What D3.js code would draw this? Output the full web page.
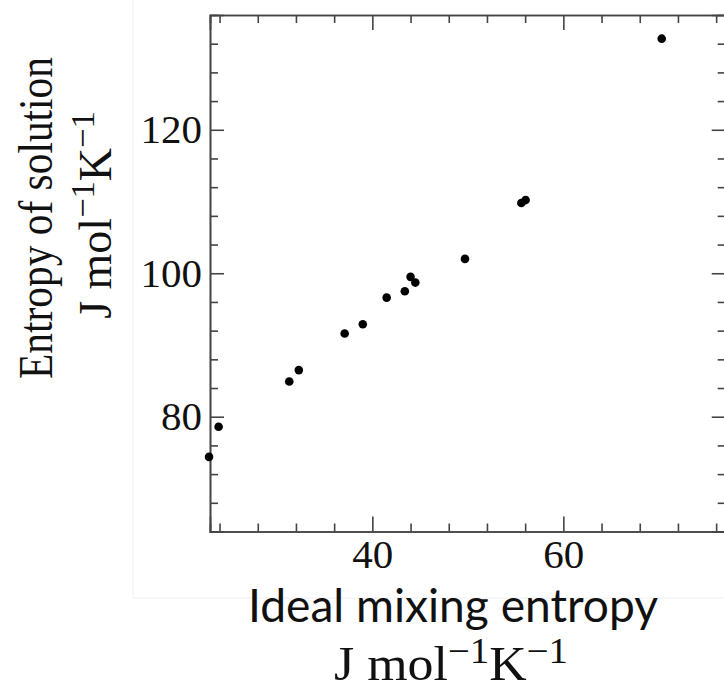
<!DOCTYPE html>
<meta charset="utf-8">
<html>
<head>
<script src="https://d3js.org/d3.v7.min.js"></script>
<style>
  body { margin: 0; background: #fff; }
</style>
</head>
<body>
<script>
// data
var idealMixing     = [22.9, 23.9, 31.3, 32.3, 37.1, 39.0, 41.5, 43.4, 44.0, 44.5, 49.7, 55.6, 56.05, 70.3];
var solutionEntropy = [74.4, 78.6, 84.9, 86.5, 91.6, 92.9, 96.6, 97.5, 99.5, 98.7, 102.0, 109.8, 110.2, 132.7];
var xMajor = [40, 60];
var xMinor = [24, 28, 32, 36, 44, 48, 52, 56, 64, 68, 72, 76];
var yMajor = [80, 100, 120];
var yMinor = [68, 72, 76, 84, 88, 92, 96, 104, 108, 112, 116, 124, 128, 132];

var W = 724, H = 690;
var frame = {left: 210, right: 725.7, top: 15, bottom: 531.5};

var svg = d3.select("body").append("svg")
    .attr("width", W).attr("height", H);

svg.append("rect").attr("width", W).attr("height", H).attr("fill", "#fff");

// faint edge of the pasted picture
svg.append("path")
    .attr("d", "M133,0V598H" + W)
    .attr("fill", "none").attr("stroke", "#f0f0f0").attr("stroke-width", 1);

var x = d3.scaleLinear().domain([23, 77]).range([frame.left, frame.right]);
var y = d3.scaleLinear().domain([64, 136]).range([frame.bottom, frame.top]);

var axisColor = "#444";
var tickFont = "'Liberation Serif', 'Times New Roman', serif";

function styleAxis(g) {
    g.select(".domain").attr("stroke", axisColor).attr("stroke-width", 1.6);
    g.selectAll(".tick line").attr("stroke", axisColor).attr("stroke-width", 1.6);
    g.selectAll(".tick text").attr("fill", "#111")
        .attr("font-family", tickFont).attr("font-size", 41);
}

// bottom
svg.append("g").attr("transform", "translate(0," + frame.bottom + ")")
    .call(d3.axisBottom(x).tickValues(xMinor).tickSize(-8).tickFormat(""))
    .call(styleAxis);
svg.append("g").attr("transform", "translate(0," + frame.bottom + ")")
    .call(d3.axisBottom(x).tickValues(xMajor).tickSize(-15).tickPadding(7).tickFormat(d3.format("d")))
    .call(styleAxis);
// top
svg.append("g").attr("transform", "translate(0," + frame.top + ")")
    .call(d3.axisTop(x).tickValues(xMinor).tickSize(-8).tickFormat(""))
    .call(styleAxis);
svg.append("g").attr("transform", "translate(0," + frame.top + ")")
    .call(d3.axisTop(x).tickValues(xMajor).tickSize(-15).tickFormat(""))
    .call(styleAxis);
// left
svg.append("g").attr("transform", "translate(" + frame.left + ",0)")
    .call(d3.axisLeft(y).tickValues(yMinor).tickSize(-8).tickFormat(""))
    .call(styleAxis);
svg.append("g").attr("transform", "translate(" + frame.left + ",0)")
    .call(d3.axisLeft(y).tickValues(yMajor).tickSize(-14).tickPadding(8).tickFormat(d3.format("d")))
    .call(styleAxis);
// right
svg.append("g").attr("transform", "translate(" + frame.right + ",0)")
    .call(d3.axisRight(y).tickValues(yMinor).tickSize(-8).tickFormat(""))
    .call(styleAxis);
svg.append("g").attr("transform", "translate(" + frame.right + ",0)")
    .call(d3.axisRight(y).tickValues(yMajor).tickSize(-14).tickFormat(""))
    .call(styleAxis);

// points
svg.append("g").selectAll("circle")
    .data(idealMixing)
    .enter().append("circle")
    .attr("cx", function(d) { return x(d); })
    .attr("cy", function(d, i) { return y(solutionEntropy[i]); })
    .attr("r", 4.3)
    .attr("fill", "#000");

// unit label with superscripts
function unitLabel(t, size) {
    var sup = size * 0.36;
    t.append("tspan").text("J mol");
    t.append("tspan").attr("dy", -sup).attr("font-size", size * 0.75).text("\u22121");
    t.append("tspan").attr("dy", sup).text("K");
    t.append("tspan").attr("dy", -sup).attr("font-size", size * 0.75).text("\u22121");
}

// x label
svg.append("text")
    .attr("x", 453).attr("y", 622)
    .attr("text-anchor", "middle")
    .attr("font-family", "Lato, 'Open Sans', sans-serif")
    .attr("font-size", 47)
    .attr("textLength", 410).attr("lengthAdjust", "spacingAndGlyphs")
    .attr("fill", "#111")
    .text("Ideal mixing entropy");

svg.append("text")
    .attr("x", 451).attr("y", 680)
    .attr("text-anchor", "middle")
    .attr("font-family", tickFont)
    .attr("font-size", 48)
    .attr("textLength", 234).attr("lengthAdjust", "spacingAndGlyphs")
    .attr("fill", "#111")
    .call(unitLabel, 48);

// y label
svg.append("text")
    .attr("transform", "translate(52,218) rotate(-90)")
    .attr("text-anchor", "middle")
    .attr("font-family", tickFont)
    .attr("font-size", 48)
    .attr("textLength", 322).attr("lengthAdjust", "spacingAndGlyphs")
    .attr("fill", "#111")
    .text("Entropy of solution");

svg.append("text")
    .attr("transform", "translate(111,215) rotate(-90)")
    .attr("text-anchor", "middle")
    .attr("font-family", tickFont)
    .attr("font-size", 46)
    .attr("fill", "#111")
    .call(unitLabel, 46);
</script>
</body>
</html>
